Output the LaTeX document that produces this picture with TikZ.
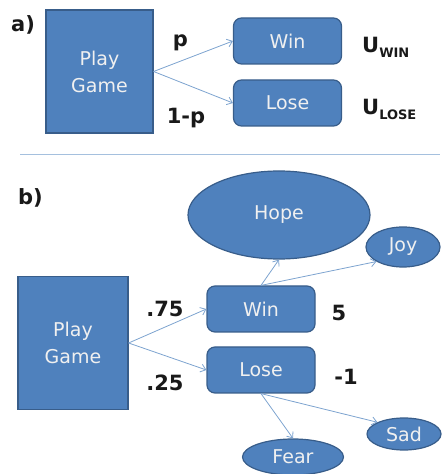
\documentclass[tikz,border=0pt]{standalone}
\usepackage{fontspec}
\setmainfont{DejaVu Sans}
\usetikzlibrary{shapes.geometric,arrows.meta}
\definecolor{boxblue}{RGB}{79,129,189}
\definecolor{boxedge}{RGB}{56,93,138}
\definecolor{arrowblue}{RGB}{125,163,207}
\definecolor{sepblue}{RGB}{165,192,222}
\tikzset{
  box/.style={draw=boxedge, fill=boxblue, line width=1.2pt, text=white!94!black,
    font=\fontsize{19}{27}\selectfont, align=center, inner sep=0pt},
  playbox/.style={box},
  outcome/.style={box, rounded corners=8pt, minimum width=108pt, minimum height=46pt},
  feeling/.style={box, ellipse},
  lbl/.style={font=\fontsize{21}{24}\selectfont\bfseries, text=black!90},
  link/.style={draw=arrowblue, line width=0.8pt, -{Straight Barb[length=5pt,width=8pt]}}
}
\newcommand{\util}[1]{U\raisebox{-0.2em}{\fontsize{13}{13}\selectfont #1}}
\begin{document}
\begin{tikzpicture}[x=1pt,y=1pt]
    \useasboundingbox (0,0) rectangle (443,474);

    \node[lbl] (tagA) at (23,449.5) {a)};
    \node[playbox, minimum width=107pt, minimum height=123pt] (playA) at (99.5,402.5) {Play\\Game};
    \node[outcome] (winA) at (287.5,433) {Win};
    \node[outcome] (loseA) at (287.5,371) {Lose};
    \node[lbl] (pA) at (180.5,431) {p};
    \node[lbl] (qA) at (186,356) {1-p};
    \node[lbl, anchor=base west, inner sep=0pt] (uwinA) at (362,421) {\util{WIN}};
    \node[lbl, anchor=base west, inner sep=0pt] (uloseA) at (362,359) {\util{LOSE}};

    \draw[link] (playA.east) -- (winA.west);
    \draw[link] (playA.east) -- (loseA.west);

    \coordinate (sepL) at (20,319);
    \coordinate (sepR) at (440,319);
    \draw[sepblue, line width=1pt] (sepL) -- (sepR);

    \node[lbl] (tagB) at (30.5,276) {b)};
    \node[playbox, minimum width=110pt, minimum height=133pt] (playB) at (73,131) {Play\\Game};
    \node[outcome] (winB) at (261,165) {Win};
    \node[outcome] (loseB) at (261,104) {Lose};
    \node[feeling, minimum width=182pt, minimum height=88pt] (hope) at (279,259) {Hope};
    \node[feeling, minimum width=74pt, minimum height=40pt] (joy) at (403,227) {Joy};
    \node[feeling, minimum width=74pt, minimum height=32pt] (sad) at (404,40) {Sad};
    \node[feeling, minimum width=101pt, minimum height=36pt] (fear) at (293,17) {Fear};
    \node[lbl] (pB) at (165,165) {.75};
    \node[lbl] (qB) at (165,91) {.25};
    \node[lbl] (uwinB) at (339,161) {5};
    \node[lbl] (uloseB) at (346,97) {-1};

    \draw[link] (playB.east) -- (winB.west);
    \draw[link] (playB.east) -- (loseB.west);
    \draw[link] (winB.north) -- (hope.south);
    \draw[link] (winB.north) -- (joy.south west);
    \draw[link] (loseB.south) -- (fear.north);
    \draw[link] (loseB.south) -- (sad.north west);
\end{tikzpicture}
\end{document}
